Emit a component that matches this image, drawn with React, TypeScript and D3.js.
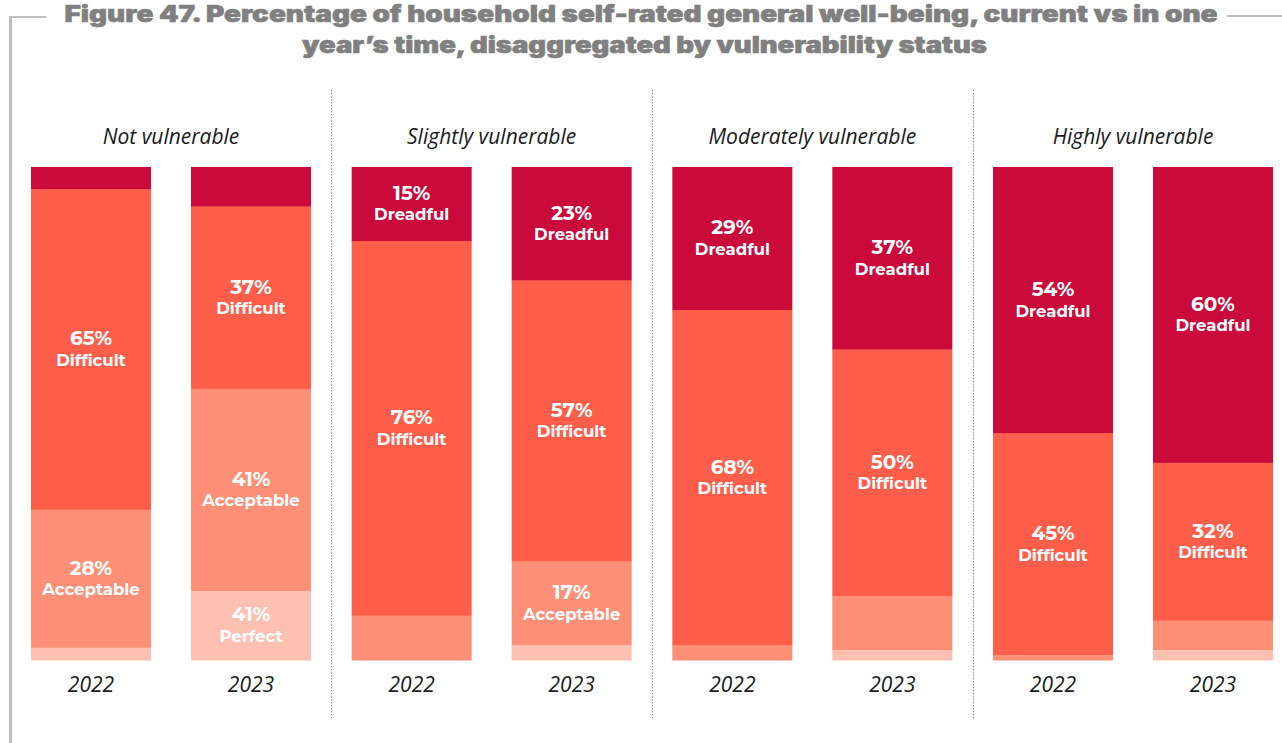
import React from "react";
import * as d3 from "d3";

const groups = ["Not vulnerable", "Slightly vulnerable", "Moderately vulnerable", "Highly vulnerable"];
const years = ["2022", "2023"];
const categories = ["Dreadful", "Difficult", "Acceptable", "Perfect"];

// values per group, per year, per category (Dreadful, Difficult, Acceptable, Perfect)
const notVulnerable = [
  [4.5, 65, 28, 2.5],
  [8, 37, 41, 14],
];
const slightlyVulnerable = [
  [15, 76, 9, 0],
  [23, 57, 17, 3],
];
const moderatelyVulnerable = [
  [29, 68, 3, 0],
  [37, 50, 11, 2],
];
const highlyVulnerable = [
  [54, 45, 1, 0],
  [60, 32, 6, 2],
];

// displayed labels (as printed in the figure); null = no label
const notVulnerableLabels = [
  [null, "65%", "28%", null],
  [null, "37%", "41%", "41%"],
];
const slightlyVulnerableLabels = [
  ["15%", "76%", null, null],
  ["23%", "57%", "17%", null],
];
const moderatelyVulnerableLabels = [
  ["29%", "68%", null, null],
  ["37%", "50%", null, null],
];
const highlyVulnerableLabels = [
  ["54%", "45%", null, null],
  ["60%", "32%", null, null],
];

const groupValues = [notVulnerable, slightlyVulnerable, moderatelyVulnerable, highlyVulnerable];
const groupLabels = [notVulnerableLabels, slightlyVulnerableLabels, moderatelyVulnerableLabels, highlyVulnerableLabels];

const titleLines = [
  "Figure 47. Percentage of household self-rated general well-being, current vs in one",
  "year\u2019s time, disaggregated by vulnerability status",
];

const colors = ["#CA0A3A", "#FF5E4A", "#FF8F76", "#FFC0B2"];

export default function App() {
  const W = 1282;
  const H = 743;

  const xGroup = d3.scaleBand<string>().domain(groups).range([31, 1273]).paddingInner(40.67 / 320.67).paddingOuter(0);
  const xYear = d3.scaleBand<string>().domain(years).range([0, xGroup.bandwidth()]).paddingInner(0.25).paddingOuter(0);
  const y = d3.scaleLinear().domain([0, 100]).range([660, 167]);

  const stack = d3.stack<number[]>().keys(categories.map((_, i) => String(i))).value((d, k) => d[+k]);

  const labelFont = "Montserrat, 'Open Sans', 'Noto Sans', sans-serif";
  const italicFont = "'Open Sans', 'Noto Sans', sans-serif";

  return (
    <svg width={W} height={H} style={{ position: "absolute", left: 0, top: 0, background: "#fff" }}>
      {/* frame */}
      <line x1={10.5} x2={10.5} y1={16} y2={H} stroke="#BDBDBD" strokeWidth={3} />
      <line x1={9} x2={46} y1={17} y2={17} stroke="#BDBDBD" strokeWidth={2} />
      <line x1={1227} x2={1282} y1={16} y2={16} stroke="#BDBDBD" strokeWidth={2} />

      {/* title */}
      <text x={641} y={22} textAnchor="middle" fontFamily="Inter, Lato, 'Open Sans', sans-serif" fontWeight={900} fontSize={22.5} fill="#808080" stroke="#808080" strokeWidth={0.6} textLength={1153} lengthAdjust="spacingAndGlyphs">
        {titleLines[0]}
      </text>
      <text x={644.5} y={53} textAnchor="middle" fontFamily="Inter, Lato, 'Open Sans', sans-serif" fontWeight={900} fontSize={22.5} fill="#808080" stroke="#808080" strokeWidth={0.6} textLength={685} lengthAdjust="spacingAndGlyphs">
        {titleLines[1]}
      </text>

      {/* separators */}
      {groups.slice(1).map((g) => {
        const x = Math.round((xGroup(g) as number) - (xGroup.step() - xGroup.bandwidth()) / 2) + 0.5;
        return <line key={g} x1={x} x2={x} y1={90} y2={720} stroke="#8A8A8A" strokeWidth={1} strokeDasharray="1.5,1.5" />;
      })}

      {groups.map((g, gi) => {
        const gx = xGroup(g) as number;
        return (
          <g key={g} transform={`translate(${gx},0)`}>
            <text x={xGroup.bandwidth() / 2} y={144} textAnchor="middle" fontFamily={italicFont} fontStyle="italic" fontSize={21} fill="#1a1a1a">
              {g}
            </text>
            {years.map((yr, yi) => {
              const series = stack([groupValues[gi][yi]]);
              const bx = xYear(yr) as number;
              const bw = xYear.bandwidth();
              return (
                <g key={yr}>
                  {series.map((s, ci) => {
                    const [y0, y1] = s[0];
                    if (y1 - y0 <= 0) return null;
                    // stack from top: Dreadful at top
                    const yt = y(100 - y0);
                    const yb = y(100 - y1);
                    const rectY = Math.min(yt, yb);
                    const rectH = Math.abs(yb - yt);
                    const lbl = groupLabels[gi][yi][ci];
                    const mid = rectY + rectH / 2;
                    return (
                      <g key={ci}>
                        <rect x={bx} y={rectY} width={bw} height={rectH + 0.5} fill={colors[ci]} />
                        {lbl && (
                          <g fontFamily={labelFont} fontWeight={700} fill="#fff" textAnchor="middle">
                            <text x={bx + bw / 2} y={mid - 4} fontSize={20}>{lbl}</text>
                            <text x={bx + bw / 2} y={mid + 16.5} fontSize={16.5}>{categories[ci]}</text>
                          </g>
                        )}
                      </g>
                    );
                  })}
                  <text x={bx + bw / 2} y={692} textAnchor="middle" fontFamily={italicFont} fontStyle="italic" fontSize={21} fill="#1a1a1a">
                    {yr}
                  </text>
                </g>
              );
            })}
          </g>
        );
      })}
    </svg>
  );
}
